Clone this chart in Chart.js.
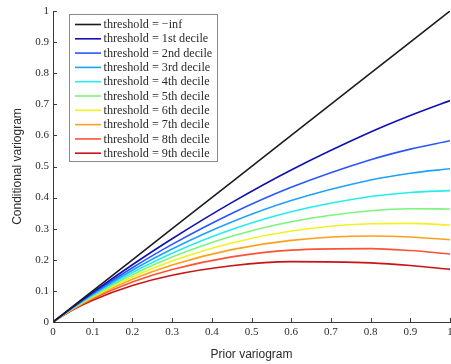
<!DOCTYPE html>
<html>
<head>
<meta charset="utf-8">
<script src="https://cdn.jsdelivr.net/npm/chart.js@4.4.1/dist/chart.umd.min.js"></script>
<style>
  html, body { margin: 0; padding: 0; background: #fff; }
</style>
</head>
<body>
<canvas id="chart" width="451" height="364"></canvas>
<script>
// prior variogram values where the curves were read
const priorVariogram = [0, 0.05, 0.1, 0.2, 0.3, 0.45, 0.6, 0.8, 0.9, 1];

// conditional variogram, one array per threshold
const thrNone  = [0, 0.05, 0.1, 0.2, 0.3, 0.45, 0.6, 0.8, 0.9, 1];
const thrDec1  = [0, 0.0484, 0.0950, 0.1841, 0.2678, 0.3840, 0.4890, 0.6110, 0.6642, 0.7121];
const thrDec2  = [0, 0.0473, 0.0918, 0.1744, 0.2495, 0.3489, 0.4330, 0.5216, 0.5558, 0.5830];
const thrDec3  = [0, 0.0463, 0.0890, 0.1664, 0.2346, 0.3213, 0.3905, 0.4565, 0.4784, 0.4928];
const thrDec4  = [0, 0.0454, 0.0864, 0.1590, 0.2213, 0.2974, 0.3547, 0.4036, 0.4166, 0.4223];
const thrDec5  = [0, 0.0445, 0.0838, 0.1520, 0.2087, 0.2755, 0.3226, 0.3577, 0.3641, 0.3634];
const thrDec6  = [0, 0.0435, 0.0811, 0.1448, 0.1963, 0.2543, 0.2924, 0.3160, 0.3172, 0.3118];
const thrDec7  = [0, 0.0424, 0.0782, 0.1372, 0.1833, 0.2328, 0.2626, 0.2763, 0.2734, 0.2646];
const thrDec8  = [0, 0.0411, 0.0748, 0.1286, 0.1688, 0.2095, 0.2312, 0.2360, 0.2297, 0.2186];
const thrDec9  = [0, 0.0393, 0.0701, 0.1172, 0.1503, 0.1808, 0.1941, 0.1901, 0.1817, 0.1692];

const seriesLabels = [
    'threshold = \u2212inf',
    'threshold = 1st decile',
    'threshold = 2nd decile',
    'threshold = 3rd decile',
    'threshold = 4th decile',
    'threshold = 5th decile',
    'threshold = 6th decile',
    'threshold = 7th decile',
    'threshold = 8th decile',
    'threshold = 9th decile'
];
const seriesValues = [thrNone, thrDec1, thrDec2, thrDec3, thrDec4, thrDec5, thrDec6, thrDec7, thrDec8, thrDec9];
const seriesColors = ['#1c1c1c', '#1010b4', '#2a55ff', '#1ea2ff', '#22eef0', '#7cf57c',
                      '#f2f222', '#ffa11c', '#ff5232', '#c81414'];

const xTickValues = [0, 0.1, 0.2, 0.3, 0.4, 0.5, 0.6, 0.7, 0.8, 0.9, 1];
const xTickLabels = ['0', '0.1', '0.2', '0.3', '0.4', '0.5', '0.6', '0.7', '0.8', '0.9', '1'];
const yTickValues = [0, 0.1, 0.2, 0.3, 0.4, 0.5, 0.6, 0.7, 0.8, 0.9, 1];
const yTickLabels = ['0', '0.1', '0.2', '0.3', '0.4', '0.5', '0.6', '0.7', '0.8', '0.9', '1'];

const AXIS_COLOR = '#3a3a3a';
const TICK_FONT = { family: "'Liberation Serif', 'DejaVu Serif', serif", size: 11 };

/* ---------- plugins ---------- */

// matlab style ticks, pointing into the plot
const innerTicks = {
    id: 'innerTicks',
    afterDraw(chart) {
        const { ctx, chartArea, scales } = chart;
        ctx.save();
        ctx.strokeStyle = AXIS_COLOR;
        ctx.lineWidth = 1;
        ctx.beginPath();
        scales.x.ticks.forEach(t => {
            const px = Math.round(scales.x.getPixelForValue(t.value)) + 0.5;
            ctx.moveTo(px, chartArea.bottom);
            ctx.lineTo(px, chartArea.bottom - 4);
        });
        scales.y.ticks.forEach(t => {
            const py = Math.round(scales.y.getPixelForValue(t.value)) + 0.5;
            ctx.moveTo(chartArea.left, py);
            ctx.lineTo(chartArea.left + 4, py);
        });
        ctx.stroke();
        ctx.restore();
    }
};

// boxed legend in the upper left corner of the plot
const boxLegend = {
    id: 'boxLegend',
    afterDatasetsDraw(chart) {
        const { ctx } = chart;
        const box = { x: 69.5, y: 14.5, w: 148, h: 147 };
        const rowH = 14.3;
        ctx.save();
        ctx.fillStyle = '#fff';
        ctx.fillRect(box.x, box.y, box.w, box.h);
        ctx.strokeStyle = '#8a8a8a';
        ctx.lineWidth = 1;
        ctx.strokeRect(box.x, box.y, box.w, box.h);
        ctx.font = "12.2px 'Liberation Serif', 'DejaVu Serif', serif";
        ctx.textBaseline = 'middle';
        chart.data.datasets.forEach((ds, i) => {
            const cy = 24.5 + i * rowH;
            ctx.strokeStyle = ds.borderColor;
            ctx.lineWidth = 1.6;
            ctx.beginPath();
            ctx.moveTo(75, cy);
            ctx.lineTo(101, cy);
            ctx.stroke();
            ctx.fillStyle = '#2b2b2b';
            ctx.fillText(ds.label, 103.5, cy + 0.5);
        });
        ctx.restore();
    }
};

/* ---------- chart ---------- */

const datasets = seriesLabels.map((label, i) => ({
    label,
    data: priorVariogram.map((x, j) => ({ x, y: seriesValues[i][j] })),
    borderColor: seriesColors[i],
    backgroundColor: seriesColors[i],
    borderWidth: 1.6,
    pointRadius: 0,
    fill: false,
    cubicInterpolationMode: 'monotone'
}));

new Chart(document.getElementById('chart'), {
    type: 'line',
    data: { datasets },
    options: {
        responsive: false,
        animation: false,
        devicePixelRatio: 1,
        layout: { padding: { top: 11, right: 1, left: 0, bottom: 0 } },
        plugins: {
            legend: { display: false },
            tooltip: { enabled: false }
        },
        scales: {
            x: {
                type: 'linear',
                min: 0,
                max: 1,
                afterBuildTicks: s => { s.ticks = xTickValues.map(v => ({ value: v })); },
                afterFit: s => { s.height = 42; s.paddingLeft = 0; s.paddingRight = 0; },
                grid: { display: false, drawTicks: false, tickLength: 0 },
                border: { display: true, color: AXIS_COLOR, width: 1 },
                ticks: {
                    color: '#2b2b2b',
                    font: TICK_FONT,
                    padding: 4,
                    maxRotation: 0,
                    autoSkip: false,
                    callback: (v, i) => xTickLabels[i]
                },
                title: {
                    display: true,
                    text: 'Prior variogram',
                    color: '#2b2b2b',
                    font: { family: "'Liberation Sans', Arial, sans-serif", size: 12 },
                    padding: { top: 0, bottom: 2.5 }
                }
            },
            y: {
                type: 'linear',
                min: 0,
                max: 1,
                afterBuildTicks: s => { s.ticks = yTickValues.map(v => ({ value: v })); },
                afterFit: s => { s.width = 53; s.paddingTop = 0; s.paddingBottom = 0; },
                grid: { display: false, drawTicks: false, tickLength: 0 },
                border: { display: true, color: AXIS_COLOR, width: 1 },
                ticks: {
                    color: '#2b2b2b',
                    font: TICK_FONT,
                    padding: 4,
                    autoSkip: false,
                    callback: (v, i) => yTickLabels[i]
                },
                title: {
                    display: true,
                    text: 'Conditional variogram',
                    color: '#2b2b2b',
                    font: { family: "'Liberation Sans', Arial, sans-serif", size: 12 },
                    padding: { top: 10.5, bottom: 0 }
                }
            }
        }
    },
    plugins: [innerTicks, boxLegend]
});
</script>
</body>
</html>
